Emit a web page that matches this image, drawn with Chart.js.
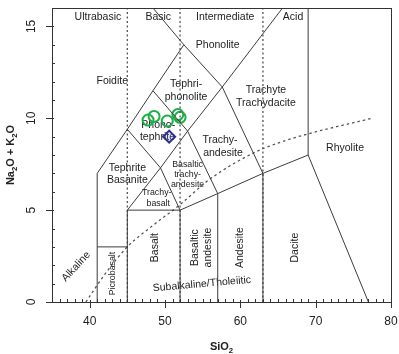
<!DOCTYPE html>
<html>
<head>
<meta charset="utf-8">
<script src="https://cdn.jsdelivr.net/npm/chart.js@4/dist/chart.umd.min.js"></script>
<style>
  html, body { margin: 0; padding: 0; background: #fff; }
  #tas { display: block; }
</style>
</head>
<body>
<canvas id="tas" width="399" height="354"></canvas>
<script>
// ————————————————
// TAS diagram data (SiO2 vs Na2O+K2O, wt%)
// ————————————————
const xTicks = [40, 50, 60, 70, 80];
const yTicks = [0, 5, 10, 15];

// field boundaries, as polylines [SiO2, alkali]
const boundaries = [
  [[41,0],[41,7],[45,9.4],[48.4,11.5],[52.5,14],[48.4,16]],
  [[41,3],[45,3]],
  [[45,0],[45,5],[49.4,7.3],[53,9.3],[57.6,11.7],[65.6,16]],
  [[45,5],[52,5],[57,5.9],[63,7],[69,8],[77,0]],
  [[52,0],[52,5],[49.4,7.3]],
  [[57,0],[57,5.9],[53,9.3],[48.4,11.5]],
  [[63,0],[63,7],[57.6,11.7],[52.5,14]],
  [[45,9.4],[49.4,7.3]],
  [[69,8],[69,16]]
];

// ultrabasic / basic / intermediate / acid limits
const silicaLimits = [45, 52, 63];

// alkaline / subalkaline divide
const alkalineDivide = [[39.5,0],[42,1.5],[45,3.0],[48.5,4.2],[52,5.3],[56,6.7],[61.7,8.1],[65,8.65],[69,9.15],[77.5,10.0]];

// samples
const samplesGreen = [[47.75,9.9],[48.55,10.1],[50.3,9.85],[51.7,10.2],[52.0,10.05]];
const samplesBlue  = [[50.55,9.0]];

// field names [text, SiO2, alkali, rotation deg, small]
const fieldNames = [
  ['Ultrabasic', 41.1, 15.5, 0, false],
  ['Basic', 49.1, 15.5, 0, false],
  ['Intermediate', 58.0, 15.5, 0, false],
  ['Acid', 67.0, 15.5, 0, false],
  ['Phonolite', 57.0, 14.0, 0, false],
  ['Foidite', 43.0, 12.0, 0, false],
  ['Tephri-', 52.8, 11.85, 0, false],
  ['phonolite', 52.8, 11.15, 0, false],
  ['Phono-', 49.1, 9.6, 0, false],
  ['tephrite', 49.0, 8.95, 0, false],
  ['Trachyte', 63.4, 11.55, 0, false],
  ['Trachydacite', 63.4, 10.85, 0, false],
  ['Trachy-', 57.3, 8.8, 0, false],
  ['andesite', 57.7, 8.1, 0, false],
  ['Tephrite', 45.0, 7.3, 0, false],
  ['Basanite', 45.0, 6.65, 0, false],
  ['Trachy-', 48.9, 5.95, 0, true],
  ['basalt', 49.1, 5.35, 0, true],
  ['Basaltic', 53.0, 7.5, 0, true],
  ['trachy-', 53.0, 6.95, 0, true],
  ['andesite', 53.0, 6.4, 0, true],
  ['Rhyolite', 73.9, 8.4, 0, false],
  ['Picrobasalt', 43.0, 1.55, -90, true],
  ['Basalt', 48.7, 2.96, -90, false],
  ['Basaltic', 54.0, 2.96, -90, false],
  ['andesite', 55.7, 2.96, -90, false],
  ['Andesite', 60.0, 2.96, -90, false],
  ['Dacite', 67.3, 2.96, -90, false],
  ['Subalkaline/Tholeiitic', 54.9, 0.97, -5, false],
  ['Alkaline', 38.2, 1.93, -47, false]
];

const FONT = '"Liberation Sans", Arial, Helvetica, sans-serif';
const toPts = arr => arr.map(p => ({ x: p[0], y: p[1] }));

// ————————————————
// datasets
// ————————————————
const datasets = [];
boundaries.forEach(b => datasets.push({
  data: toPts(b), showLine: true, borderColor: '#3c3c3c', borderWidth: 1,
  pointRadius: 0, tension: 0, fill: false
}));
silicaLimits.forEach(s => datasets.push({
  data: toPts([[s,0],[s,16]]), showLine: true, borderColor: '#555', borderWidth: 1.3,
  borderDash: [2, 2.5], pointRadius: 0, fill: false
}));
datasets.push({
  data: toPts(alkalineDivide), showLine: true, borderColor: '#555', borderWidth: 1.3,
  borderDash: [2.5, 3], pointRadius: 0, cubicInterpolationMode: 'monotone', fill: false
});
datasets.push({
  data: toPts(samplesGreen), showLine: false, pointStyle: 'circle', pointRadius: 5.5,
  borderColor: '#1fae48', borderWidth: 2, backgroundColor: 'rgba(0,0,0,0)'
});
datasets.push({
  data: toPts(samplesBlue), showLine: false, pointStyle: 'rectRot', pointRadius: 6,
  borderColor: '#2b2f8c', borderWidth: 2, backgroundColor: 'rgba(120,130,220,0.25)'
});

// ————————————————
// frame, ticks, labels
// ————————————————
function subText(ctx, parts, x, y, size) {
  // parts: [text, isSub]
  let w = 0;
  parts.forEach(([t, s]) => { ctx.font = 'bold ' + (s ? size * 0.7 : size) + 'px ' + FONT; w += ctx.measureText(t).width; });
  let cx = x - w / 2;
  parts.forEach(([t, s]) => {
    ctx.font = 'bold ' + (s ? size * 0.7 : size) + 'px ' + FONT;
    ctx.fillText(t, cx, s ? y + size * 0.3 : y);
    cx += ctx.measureText(t).width;
  });
}

const tasPlugin = {
  id: 'tas',
  beforeDatasetsDraw(chart) {
    const { ctx, scales: { x, y } } = chart;
    ctx.save();
    ctx.fillStyle = '#222';
    ctx.textAlign = 'center';
    ctx.textBaseline = 'middle';
    fieldNames.forEach(([t, sx, sy, rot, small]) => {
      ctx.save();
      ctx.font = (small ? 8.8 : 10.5) + 'px ' + FONT;
      ctx.translate(x.getPixelForValue(sx), y.getPixelForValue(sy));
      ctx.rotate(rot * Math.PI / 180);
      ctx.fillText(t, 0, 0);
      ctx.restore();
    });
    ctx.restore();
  },
  afterDraw(chart) {
    const { ctx, chartArea: a, scales: { x, y } } = chart;
    ctx.save();
    ctx.strokeStyle = '#333';
    ctx.lineWidth = 1;
    ctx.strokeRect(a.left + 0.5, a.top + 0.5, a.right - a.left, a.bottom - a.top);

    ctx.beginPath();
    for (let v = 36; v <= 79; v++) {
      const px = Math.round(x.getPixelForValue(v)) + 0.5;
      if (v % 10 === 0) { ctx.moveTo(px, a.bottom - 2); ctx.lineTo(px, a.bottom + 6); }
      else { ctx.moveTo(px, a.bottom); ctx.lineTo(px, a.bottom - 3); }
    }
    for (let v = 1; v <= 16; v++) {
      const py = Math.round(y.getPixelForValue(v)) + 0.5;
      if (v % 5 === 0) { ctx.moveTo(a.left + 2, py); ctx.lineTo(a.left - 6, py); }
      else { ctx.moveTo(a.left, py); ctx.lineTo(a.left + 3, py); }
    }
    const py0 = Math.round(y.getPixelForValue(0)) + 0.5;
    ctx.moveTo(a.left, py0); ctx.lineTo(a.left - 6, py0);
    const px80 = Math.round(x.getPixelForValue(80)) + 0.5;
    ctx.moveTo(px80, a.bottom); ctx.lineTo(px80, a.bottom + 6);
    ctx.stroke();

    ctx.fillStyle = '#222';
    ctx.font = '12px ' + FONT;
    ctx.textAlign = 'center';
    ctx.textBaseline = 'middle';
    xTicks.forEach(v => ctx.fillText(String(v), x.getPixelForValue(v), a.bottom + 20));
    yTicks.forEach(v => {
      ctx.save();
      ctx.translate(a.left - 20, y.getPixelForValue(v));
      ctx.rotate(-Math.PI / 2);
      ctx.fillText(String(v), 0, 0);
      ctx.restore();
    });

    ctx.textAlign = 'left';
    ctx.textBaseline = 'alphabetic';
    subText(ctx, [['SiO', false], ['2', true]], (a.left + a.right) / 2, 350, 11);
    ctx.save();
    ctx.translate(14, (a.top + a.bottom) / 2);
    ctx.rotate(-Math.PI / 2);
    subText(ctx, [['Na', false], ['2', true], ['O + K', false], ['2', true], ['O', false]], 0, 0, 11);
    ctx.restore();
    ctx.restore();
  }
};

new Chart(document.getElementById('tas'), {
  type: 'scatter',
  data: { datasets },
  options: {
    responsive: false,
    animation: false,
    devicePixelRatio: 1,
    layout: { padding: { left: 52, right: 8, top: 4, bottom: 52 } },
    scales: {
      x: { type: 'linear', min: 35, max: 80, display: false },
      y: { type: 'linear', min: 0, max: 16, display: false }
    },
    plugins: { legend: { display: false }, tooltip: { enabled: false } }
  },
  plugins: [tasPlugin]
});
</script>
</body>
</html>
